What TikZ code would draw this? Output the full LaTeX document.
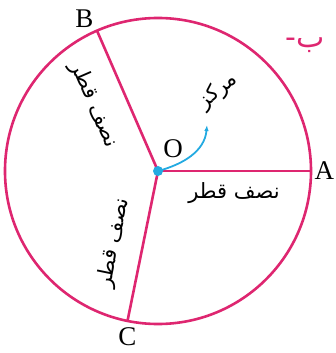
\documentclass[tikz,border=0pt]{standalone}
\usepackage{fontspec}
\setmainfont{Liberation Serif}
\newfontfamily\arabicfont[Script=Arabic]{DejaVu Sans}
\TeXXeTstate=1
\usetikzlibrary{arrows.meta,positioning,calc}
\definecolor{rimPink}{RGB}{222,38,112}
\definecolor{ctrCyan}{RGB}{35,170,225}

\begin{document}
\begin{tikzpicture}[x=1pt,y=1pt,
    rim/.style={draw=rimPink,line width=2.6pt},
    pt/.style={font=\fontsize{27}{30}\selectfont},
    ur/.style={font=\fontsize{21}{24}\selectfont\arabicfont},
    dot/.style={circle,fill=ctrCyan,inner sep=0pt,minimum size=10pt}]
  \useasboundingbox (-158,-182) rectangle (177,171);
  \coordinate (O) at (0,0);
  \draw[rim] (O) circle (153);
  \foreach \ang/\nm/\pos/\gap in {0/A/right/0pt, 113.5/B/above left/0pt, 258.5/C/below/3pt} {
    \coordinate (\nm) at (\ang:153);
    \draw[rim] (O) -- (\nm);
    \node[pt,\pos=\gap] (lab\nm) at (\nm) {\nm};
  }
  \node[dot] (dotO) at (O) {};
  \node[pt] (labO) at (15,22) {O};
  % radius labels
  \node[ur] (rA) at (76,-22) {\beginR نصف قطر\endR};
  \node[ur,rotate=-66.5] (rB) at (-64,66) {\beginR نصف قطر\endR};
  \node[ur,rotate=78.5] (rC) at (-44,-72) {\beginR نصف قطر\endR};
  % centre
  \node[ur,rotate=40] (mk) at (60,80) {\beginR مرکز\endR};
  \coordinate (tip) at (49,46);
  \draw[ctrCyan,line width=1.8pt,-{Latex[length=6pt]}] (O) to[out=15,in=-95] (tip);
  \node[font=\fontsize{30}{32}\selectfont\arabicfont,text=rimPink,inner sep=0pt,anchor=west] (tag) at (127,126) {\beginR ب-\endR};
\end{tikzpicture}
\end{document}
